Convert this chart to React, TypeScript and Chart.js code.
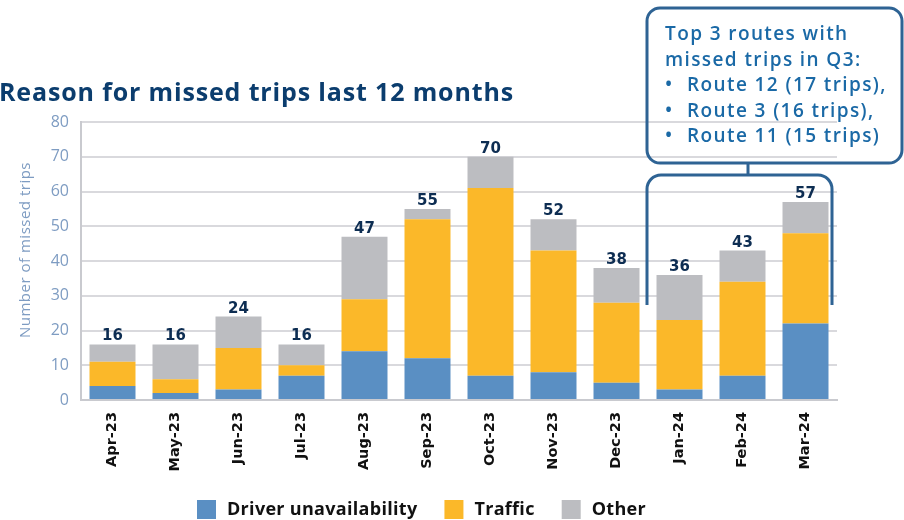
import React, { useEffect, useRef } from "react";
import { Chart, registerables } from "chart.js";

Chart.register(...registerables);

const months = ["Apr-23", "May-23", "Jun-23", "Jul-23", "Aug-23", "Sep-23", "Oct-23", "Nov-23", "Dec-23", "Jan-24", "Feb-24", "Mar-24"];
const driverUnavailability = [4, 2, 3, 7, 14, 12, 7, 8, 5, 3, 7, 22];
const traffic = [7, 4, 12, 3, 15, 40, 54, 35, 23, 20, 27, 26];
const other = [5, 10, 9, 6, 18, 3, 9, 9, 10, 13, 9, 9];
const yTicks = [0, 10, 20, 30, 40, 50, 60, 70, 80];
const seriesNames = ["Driver unavailability", "Traffic", "Other"];
const seriesColors = ["#5a8fc3", "#fbb829", "#bcbdc1"];
const titleText = "Reason for missed trips last 12 months";
const yTitle = "Number of missed trips";
const noteLines = ["Top 3 routes with", "missed trips in Q3:"];
const noteBullets = ["Route 12 (17 trips),", "Route 3 (16 trips),", "Route 11 (15 trips)"];

const FONT = "'Open Sans', 'Noto Sans', sans-serif";
const WIDE = "'DejaVu Sans', 'Open Sans', sans-serif";

function roundRectPath(ctx: CanvasRenderingContext2D, x: number, y: number, w: number, h: number, r: number) {
  ctx.beginPath();
  ctx.moveTo(x + r, y);
  ctx.lineTo(x + w - r, y);
  ctx.arcTo(x + w, y, x + w, y + r, r);
  ctx.lineTo(x + w, y + h - r);
  ctx.arcTo(x + w, y + h, x + w - r, y + h, r);
  ctx.lineTo(x + r, y + h);
  ctx.arcTo(x, y + h, x, y + h - r, r);
  ctx.lineTo(x, y + r);
  ctx.arcTo(x, y, x + r, y, r);
  ctx.closePath();
}

const overlayPlugin = {
  id: "overlay",
  afterDraw(chart: any) {
    const ctx: any = chart.ctx;
    ctx.save();

    // Title
    ctx.fillStyle = "#0b3d6e";
    ctx.font = `bold 25px ${FONT}`;
    ctx.letterSpacing = "0.85px";
    ctx.textAlign = "left";
    ctx.textBaseline = "middle";
    ctx.fillText(titleText, -1, 94);

    // Y axis title
    ctx.save();
    ctx.translate(26, 250);
    ctx.rotate(-Math.PI / 2);
    ctx.fillStyle = "#7e9cc2";
    ctx.font = `15px ${FONT}`;
    ctx.letterSpacing = "0.5px";
    ctx.textAlign = "center";
    ctx.textBaseline = "middle";
    ctx.fillText(yTitle, 0, 0);
    ctx.restore();

    // Totals above bars
    const lastMeta = chart.getDatasetMeta(chart.data.datasets.length - 1);
    ctx.fillStyle = "#0d2d52";
    ctx.font = `bold 15px ${WIDE}`;
    ctx.letterSpacing = "0px";
    ctx.textAlign = "center";
    ctx.textBaseline = "alphabetic";
    months.forEach((_, i) => {
      const total = driverUnavailability[i] + traffic[i] + other[i];
      const el = lastMeta.data[i];
      ctx.fillText(String(total), el.x, el.y - 4);
    });

    // Legend
    ctx.font = `bold 18px ${FONT}`;
    ctx.letterSpacing = "0.3px";
    ctx.textBaseline = "middle";
    ctx.textAlign = "left";
    let lx = 197;
    const ly = 500;
    seriesNames.forEach((name, i) => {
      ctx.fillStyle = seriesColors[i];
      ctx.fillRect(lx, ly, 19, 19);
      ctx.fillStyle = "#111111";
      ctx.fillText(name, lx + 30, ly + 10);
      lx += 30 + ctx.measureText(name).width + 27;
    });

    // Annotation box
    ctx.letterSpacing = "0px";
    ctx.strokeStyle = "#2e6394";
    ctx.lineWidth = 3;
    roundRectPath(ctx, 647, 8, 255, 155, 13);
    ctx.stroke();

    ctx.fillStyle = "#1a69a6";
    ctx.font = `600 19px ${FONT}`;
    ctx.letterSpacing = "1.4px";
    ctx.textBaseline = "middle";
    let ty = 35;
    noteLines.forEach((t) => {
      ctx.fillText(t, 665, ty);
      ty += 25.5;
    });
    noteBullets.forEach((t) => {
      ctx.fillText("\u2022", 665, ty);
      ctx.fillText(t, 687, ty);
      ty += 25.5;
    });
    ctx.letterSpacing = "0px";

    // Connector and bracket
    ctx.beginPath();
    ctx.moveTo(748, 163);
    ctx.lineTo(748, 175);
    ctx.stroke();
    ctx.beginPath();
    ctx.moveTo(647, 305);
    ctx.lineTo(647, 175 + 14);
    ctx.arcTo(647, 175, 647 + 14, 175, 14);
    ctx.lineTo(832 - 14, 175);
    ctx.arcTo(832, 175, 832, 175 + 14, 14);
    ctx.lineTo(832, 305);
    ctx.stroke();

    ctx.restore();
  },
};

export default function App() {
  const canvasRef = useRef<HTMLCanvasElement | null>(null);

  useEffect(() => {
    if (!canvasRef.current) return;
    const chart = new Chart(canvasRef.current, {
      type: "bar",
      data: {
        labels: months,
        datasets: [
          { label: seriesNames[0], data: driverUnavailability, backgroundColor: seriesColors[0] },
          { label: seriesNames[1], data: traffic, backgroundColor: seriesColors[1] },
          { label: seriesNames[2], data: other, backgroundColor: seriesColors[2] },
        ],
      },
      options: {
        responsive: true,
        maintainAspectRatio: false,
        animation: false,
        datasets: { bar: { barPercentage: 0.73, categoryPercentage: 1 } },
        layout: { padding: { top: 122, right: 67, left: 0, bottom: 0 } },
        plugins: { legend: { display: false }, tooltip: { enabled: false }, title: { display: false } },
        scales: {
          x: {
            stacked: true,
            grid: { display: false, drawTicks: false },
            border: { color: "#c9cacf", width: 2 },
            ticks: {
              color: "#111111",
              font: { family: WIDE, size: 14.5, weight: "bold" },
              minRotation: 90,
              maxRotation: 90,
              padding: 12,
              autoSkip: false,
            },
            afterFit(scale: any) {
              scale.height = 120;
            },
          },
          y: {
            stacked: true,
            min: 0,
            max: 80,
            afterBuildTicks(scale: any) {
              scale.ticks = yTicks.map((v) => ({ value: v }));
            },
            grid: { color: "#d9d9dd", lineWidth: 2, drawTicks: false },
            border: { color: "#c9cacf", width: 2 },
            ticks: {
              color: "#7e9cc2",
              font: { family: FONT, size: 16 },
              padding: 12,
            },
            afterFit(scale: any) {
              scale.width = 81;
            },
          },
        },
      },
      plugins: [overlayPlugin],
    });
    return () => chart.destroy();
  }, []);

  return (
    <div style={{ position: "absolute", left: 0, top: 0, width: 904, height: 520, background: "#ffffff" }}>
      <canvas ref={canvasRef} />
    </div>
  );
}
